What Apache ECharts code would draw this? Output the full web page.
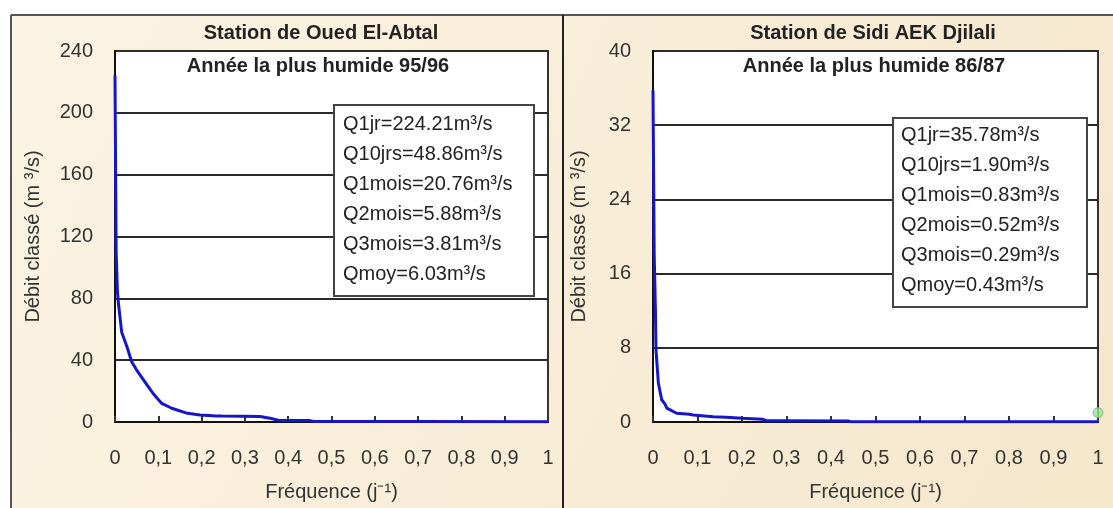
<!DOCTYPE html>
<html>
<head>
<meta charset="utf-8">
<script src="https://cdn.jsdelivr.net/npm/echarts@6/dist/echarts.min.js"></script>
<style>
  html, body { margin: 0; padding: 0; background: #fff; }
  #chart { width: 1113px; height: 508px; }
</style>
</head>
<body>
<div id="chart"></div>
<script>
// courbes des débits classés - année la plus humide
const xTicks = [0, 0.1, 0.2, 0.3, 0.4, 0.5, 0.6, 0.7, 0.8, 0.9, 1];

// Station de Oued El-Abtal (95/96)
const freqAbtal = [0, 0.0027, 0.0055, 0.0082, 0.0155, 0.0274, 0.0385, 0.05, 0.069, 0.082, 0.088,
    0.108, 0.131, 0.164, 0.196, 0.235, 0.247, 0.335, 0.358, 0.381, 0.45, 0.46, 0.7, 1];
const qAbtal = [224.21, 110, 85, 76, 58, 48.86, 39, 33.6, 26, 20.76, 18.5,
    12, 8.9, 5.88, 4.5, 3.9, 3.81, 3.5, 2.4, 0.9, 0.9, 0.4, 0.3, 0.2];
const statsAbtal = ["Q1jr=224.21m³/s", "Q10jrs=48.86m³/s", "Q1mois=20.76m³/s",
    "Q2mois=5.88m³/s", "Q3mois=3.81m³/s", "Qmoy=6.03m³/s"];

// Station de Sidi AEK Djilali (86/87)
const freqDjilali = [0, 0.0027, 0.0055, 0.0067, 0.012, 0.0195, 0.0274, 0.031, 0.053, 0.082, 0.09,
    0.135, 0.164, 0.2, 0.247, 0.255, 0.3, 0.44, 0.445, 1];
const qDjilali = [35.78, 18, 12, 7.8, 4.2, 2.4, 1.9, 1.5, 0.94, 0.83, 0.75,
    0.57, 0.52, 0.4, 0.29, 0.14, 0.14, 0.1, 0.02, 0.02];
const statsDjilali = ["Q1jr=35.78m³/s", "Q10jrs=1.90m³/s", "Q1mois=0.83m³/s",
    "Q2mois=0.52m³/s", "Q3mois=0.29m³/s", "Qmoy=0.43m³/s"];
const markerFreq = [1];
const markerQ = [1];

const FONT = "Liberation Sans, Arial, sans-serif";
const chart = echarts.init(document.getElementById("chart"));

const pairs = (xs, ys) => xs.map((x, i) => [x, ys[i]]);
const fmtFreq = (v) => (v === 0 || v === 1 ? String(v) : v.toFixed(1).replace(".", ","));

function xAxisFor(gridIndex) {
    return {
        type: "value",
        gridIndex,
        min: xTicks[0],
        max: xTicks[xTicks.length - 1],
        interval: 0.1,
        name: "Fréquence (j⁻¹)",
        nameLocation: "middle",
        nameGap: 60,
        nameTextStyle: { color: "#333", fontSize: 20, fontFamily: FONT },
        axisLine: { show: true, lineStyle: { color: "#111", width: 2 } },
        axisTick: { show: true, inside: true, length: 6, lineStyle: { color: "#333", width: 2 } },
        axisLabel: { color: "#333", fontSize: 20, fontFamily: FONT, margin: 26, formatter: fmtFreq },
        splitLine: { show: false },
    };
}

function yAxisFor(gridIndex, max, interval) {
    return {
        type: "value",
        gridIndex,
        min: 0,
        max,
        interval,
        name: "Débit classé (m ³/s)",
        nameLocation: "middle",
        nameGap: gridIndex === 0 ? 72 : 64,
        nameTextStyle: { color: "#333", fontSize: 20, fontFamily: FONT },
        axisLine: { show: true, lineStyle: { color: "#111", width: 2 } },
        axisTick: { show: false },
        axisLabel: { color: "#333", fontSize: 20, fontFamily: FONT, margin: 22, padding: [0, 0, 8, 0] },
        splitLine: { show: true, lineStyle: { color: "#2a2a2a", width: 2 } },
    };
}

function statsBox(lines, left, top, pad, width) {
    return {
        type: "text",
        left,
        top,
        z: 100,
        style: {
            text: lines.join("\n"),
            font: "20px " + FONT,
            fill: "#222",
            lineHeight: 30,
            backgroundColor: "#fff",
            borderColor: "#444",
            borderWidth: 2,
            padding: pad,
            width,
        },
    };
}

function heading(text, x, y) {
    return {
        type: "text",
        x,
        y,
        z: 100,
        style: { text, font: "bold 20px " + FONT, fill: "#222", align: "center", verticalAlign: "middle" },
    };
}

chart.setOption({
    animation: false,
    backgroundColor: "#fff",
    grid: [
        { left: 115, top: 51, width: 433, height: 371, show: true, backgroundColor: "#fff", borderColor: "#333", borderWidth: 2 },
        { left: 653, top: 51, width: 445, height: 371, show: true, backgroundColor: "#fff", borderColor: "#333", borderWidth: 2 },
    ],
    xAxis: [xAxisFor(0), xAxisFor(1)],
    yAxis: [yAxisFor(0, 240, 40), yAxisFor(1, 40, 8)],
    series: [
        {
            type: "line",
            xAxisIndex: 0,
            yAxisIndex: 0,
            data: pairs(freqAbtal, qAbtal),
            showSymbol: false,
            lineStyle: { color: "#1616c8", width: 3 },
            z: 5,
        },
        {
            type: "line",
            xAxisIndex: 1,
            yAxisIndex: 1,
            data: pairs(freqDjilali, qDjilali),
            showSymbol: false,
            lineStyle: { color: "#1616c8", width: 3 },
            z: 5,
        },
        {
            type: "scatter",
            xAxisIndex: 1,
            yAxisIndex: 1,
            data: pairs(markerFreq, markerQ),
            symbolSize: 10,
            itemStyle: { color: "#8fe88f", borderColor: "#9a9a9a", borderWidth: 1 },
            z: 6,
        },
    ],
    graphic: [
        {
            type: "rect",
            z: -10,
            shape: { x: 11, y: 15, width: 1102, height: 493 },
            style: {
                fill: new echarts.graphic.LinearGradient(0, 0, 1, 1, [
                    { offset: 0, color: "#fbf3e3" },
                    { offset: 1, color: "#f5e7cc" },
                ]),
            },
        },
        { type: "line", z: 50, shape: { x1: 11, y1: 15, x2: 1113, y2: 15 }, style: { stroke: "#555", lineWidth: 2 } },
        { type: "line", z: 50, shape: { x1: 11, y1: 15, x2: 11, y2: 508 }, style: { stroke: "#555", lineWidth: 2 } },
        { type: "line", z: 50, shape: { x1: 563, y1: 15, x2: 563, y2: 508 }, style: { stroke: "#222", lineWidth: 2 } },
        heading("Station de Oued El-Abtal", 321, 33),
        heading("Année la plus humide 95/96", 318, 66),
        heading("Station de Sidi AEK Djilali", 873, 33),
        heading("Année la plus humide 86/87", 874, 66),
        statsBox(statsAbtal, 333, 104, [3, 10, 6, 8], 180),
        statsBox(statsDjilali, 892, 117, [1, 8, 6, 7], 177),
    ],
});
</script>
</body>
</html>
